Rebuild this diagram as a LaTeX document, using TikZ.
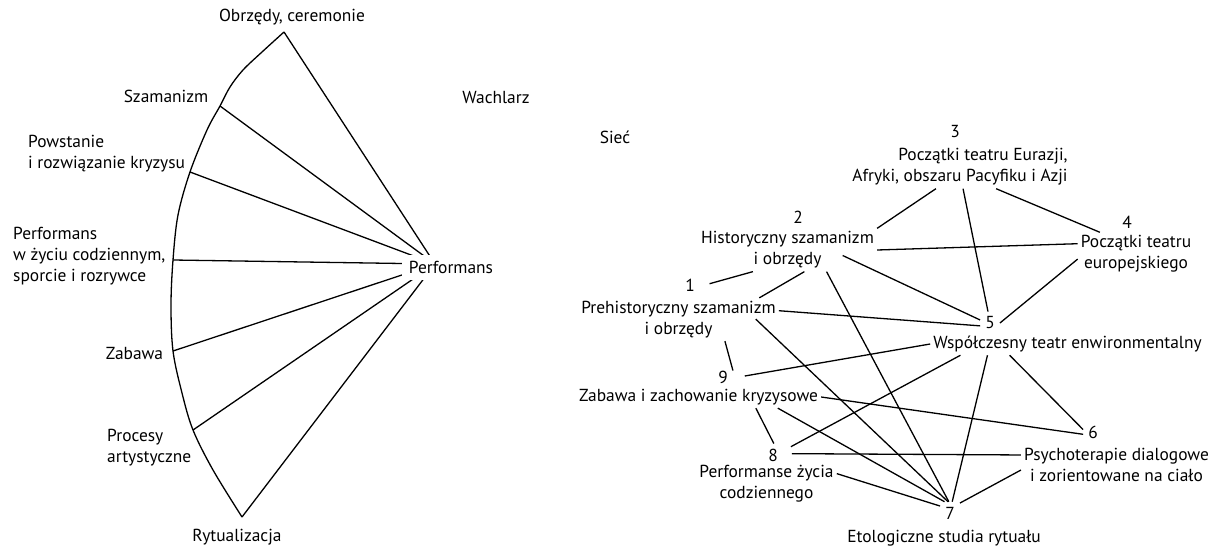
\documentclass[tikz,border=0pt]{standalone}
\usepackage{fontspec}
\setmainfont{PT Sans}
\usetikzlibrary{backgrounds}
\begin{document}
\begin{tikzpicture}[x=1pt,y=-1pt,
  every node/.style={font=\fontsize{17.4}{21}\selectfont},
  lbl/.style={inner sep=3pt},
  num/.style={inner sep=5pt},
  txt/.style={inner sep=3pt, align=center},
  edge/.style={line width=1.3pt, line join=round}]
\useasboundingbox (0,0) rectangle (1215,549);
% ---------- Wachlarz ----------
\coordinate (aObr) at (284,32);
\coordinate (aSza) at (220,106);
\coordinate (aPow) at (190,172);
\coordinate (aPer) at (173,260);
\coordinate (aZab) at (173,351);
\coordinate (aPro) at (193,430);
\coordinate (aRyt) at (242,517);
\coordinate (hub) at (435,264);
\draw[edge] plot[smooth, tension=0.55] coordinates {(284,32) (262,52) (243,70) (230,87) (220,106) (207,130) (190,172) (178,215) (173,260) (171,305) (173,351) (182,393) (193,430) (213,470) (242,517)};
\foreach \p in {aObr,aSza,aPow,aPer,aZab,aPro,aRyt} \draw[edge] (\p) -- (hub);
\node[fill=white, inner xsep=7pt, inner ysep=6pt] (perf) at (451,267.5) {Performans};
\node[lbl] (lObr) at (292,17) {Obrzędy, ceremonie};
\node[lbl] (lSza) at (166,96) {Szamanizm};
\node[lbl, anchor=west, align=left] (lPow) at (25,154) {Powstanie\\i rozwiązanie kryzysu};
\node[lbl, anchor=west, align=left] (lPer) at (10,256) {Performans\\w życiu codziennym,\\sporcie i rozrywce};
\node[lbl] (lZab) at (134.5,353) {Zabawa};
\node[lbl, anchor=west, align=left] (lPro) at (104,448) {Procesy\\artystyczne};
\node[lbl] (lRyt) at (237,537) {Rytualizacja};
\node[lbl] (wach) at (496,98) {Wachlarz};
% ---------- Sieć ----------
\node[lbl] (siec) at (615,137) {Sieć};
\node[num] (k1) at (690,285) {1};
\node[num] (k2) at (798,217) {2};
\node[num] (k3) at (955,132) {3};
\node[num] (k4) at (1127,222) {4};
\node[num] (k5) at (990,323) {5};
\node[num] (k6) at (1093,432) {6};
\node[num] (k7) at (950,513) {7};
\node[num] (k8) at (773,455) {8};
\node[num] (k9) at (723,377) {9};
\node[txt] (t1) at (678.5,319.5) {Prehistoryczny szamanizm\\i obrzędy};
\node[txt] (t2) at (787.5,250) {Historyczny szamanizm\\i obrzędy};
\node[txt, align=right] (t3) at (960,167) {Początki teatru Eurazji,\\Afryki, obszaru Pacyfiku i Azji};
\node[txt] (t4) at (1136,254) {Początki teatru\\europejskiego};
\node[txt] (t5) at (1067.5,344) {Współczesny teatr enwironmentalny};
\node[txt] (t6) at (1116.5,465) {Psychoterapie dialogowe\\i zorientowane na ciało};
\node[txt] (t7) at (944,538) {Etologiczne studia rytuału};
\node[txt] (t8) at (766.5,483.5) {Performanse życia\\codziennego};
\node[txt] (t9) at (698.5,397) {Zabawa i zachowanie kryzysowe};
\draw[edge] (t2.north east) -- (t3.222.6);
\draw[edge] (t2.east) -- (t4.170);
\draw[edge, shorten <=-38pt] (t2.south east) -- (k5.163);
\draw[edge] (t2.-29) -- (k7.96);
\draw[edge, shorten >=10pt] (t2.212) -- (k1.-8);
\draw[edge] (t2.-52) -- (t1.15);
\draw[edge] (t1.5) -- (k5.196);
\draw[edge, shorten <=-32pt] (t1.south east) -- (k7.100);
\draw[edge] (t1.-25) -- (k9.33);
\draw[edge, shorten <=12pt] (k9.-6) -- (t5.west);
\draw[edge] (t9.east) -- (k6.193);
\draw[edge] (t9.-8) -- (k7.116);
\draw[edge] (t9.-11) -- (k8.86);
\draw[edge, shorten <=9pt] (k8.22) -- (t5.186);
\draw[edge, shorten <=9pt] (k8.8) -- (t6.174);
\draw[edge] (t8.8) -- (k7.145);
\draw[edge] (t5.188) -- (k7.79);
\draw[edge] (t5.191.5) -- (k6.166);
\draw[edge] (t6.183) -- (k7.45);
\draw[edge] (t3.-82) -- (k5.100);
\draw[edge] (t3.-31) -- (t4.149);
\draw[edge] (t4.185) -- (k5.east);
\end{tikzpicture}
\end{document}
